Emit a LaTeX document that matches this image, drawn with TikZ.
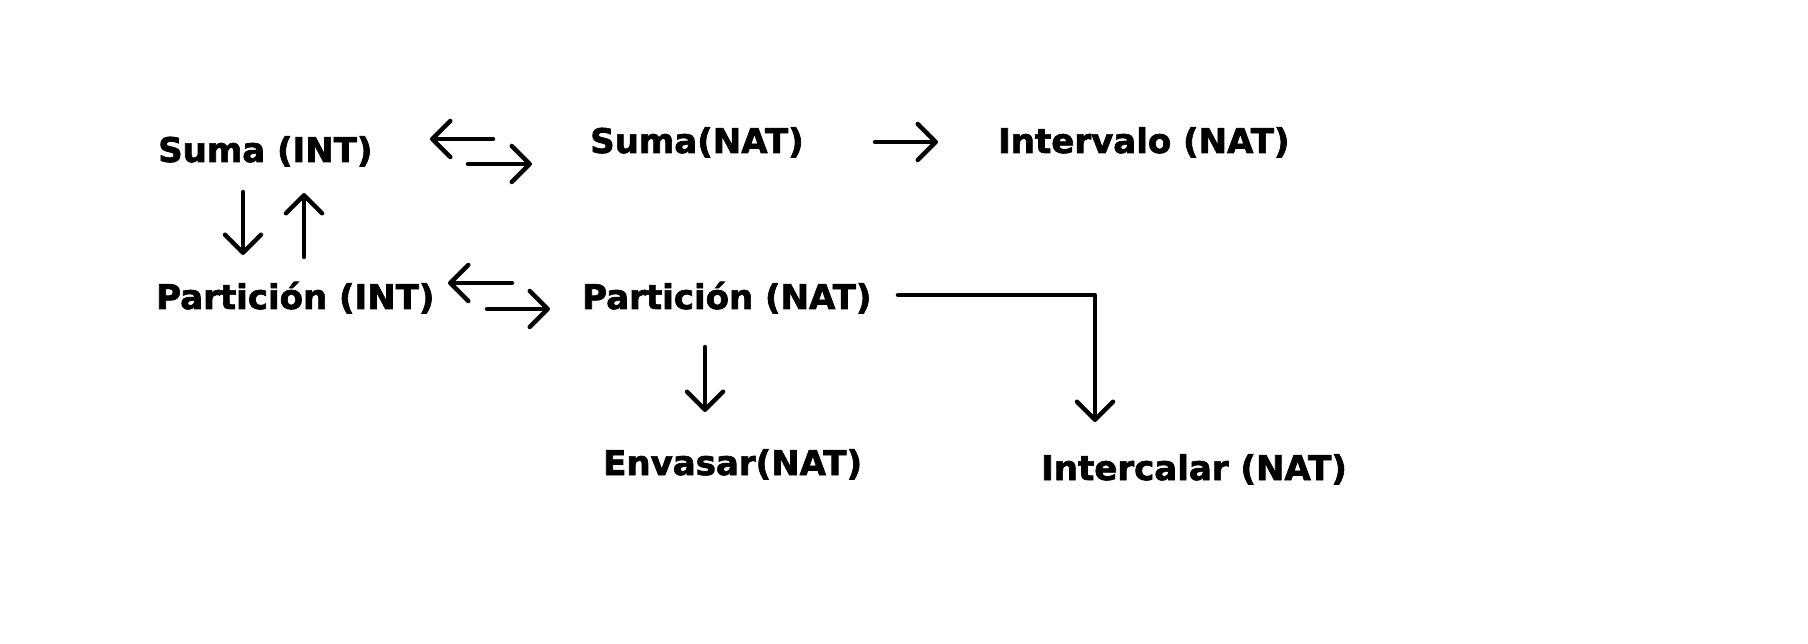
\documentclass[tikz,border=0pt]{standalone}
\usepackage{fontspec}
\setmainfont{DejaVu Sans}
\newfontfamily\heavyfont[FakeBold=2]{DejaVu Sans Bold}
\usetikzlibrary{arrows.meta}
\begin{document}
\begin{tikzpicture}[x=1pt,y=-1pt,
  lbl/.style={anchor=base west, inner sep=0pt, font=\heavyfont\fontsize{34}{40}\selectfont},
  conn/.style={line width=4.5pt, line cap=round, line join=round,
    -{Straight Barb[length=18pt,width=36pt,round]}}]
\useasboundingbox (0,0) rectangle (1808,644);
\node[lbl] (sint) at (158,162) {Suma (INT)};
\node[lbl] (snat) at (590,153) {Suma(NAT)};
\node[lbl] (inat) at (998,153) {Intervalo (NAT)};
\node[lbl] (pint) at (156,309) {Partición (INT)};
\node[lbl] (pnat) at (582,309) {Partición (NAT)};
\node[lbl] (enat) at (603,475) {Envasar(NAT)};
\node[lbl] (icnat) at (1041,480) {Intercalar (NAT)};
% free ends
\coordinate (a1s) at (493,139); \coordinate (a1e) at (430,139);
\coordinate (a2s) at (468,164); \coordinate (a2e) at (532,164);
\coordinate (a3s) at (875,142); \coordinate (a3e) at (938,142);
\coordinate (a4s) at (243,192); \coordinate (a4e) at (243,255);
\coordinate (a5s) at (304,257); \coordinate (a5e) at (304,193);
\coordinate (a6s) at (512,283); \coordinate (a6e) at (448,283);
\coordinate (a7s) at (487,309); \coordinate (a7e) at (550,309);
\coordinate (a8s) at (898,295); \coordinate (a8e) at (1095,422);
\coordinate (a9s) at (705,347); \coordinate (a9e) at (705,412);
\draw[conn] (a1s) -- (a1e);
\draw[conn] (a2s) -- (a2e);
\draw[conn] (a3s) -- (a3e);
\draw[conn] (a4s) -- (a4e);
\draw[conn] (a5s) -- (a5e);
\draw[conn] (a6s) -- (a6e);
\draw[conn] (a7s) -- (a7e);
\draw[conn] (a8s) -| (a8e);
\draw[conn] (a9s) -- (a9e);
\end{tikzpicture}
\end{document}
